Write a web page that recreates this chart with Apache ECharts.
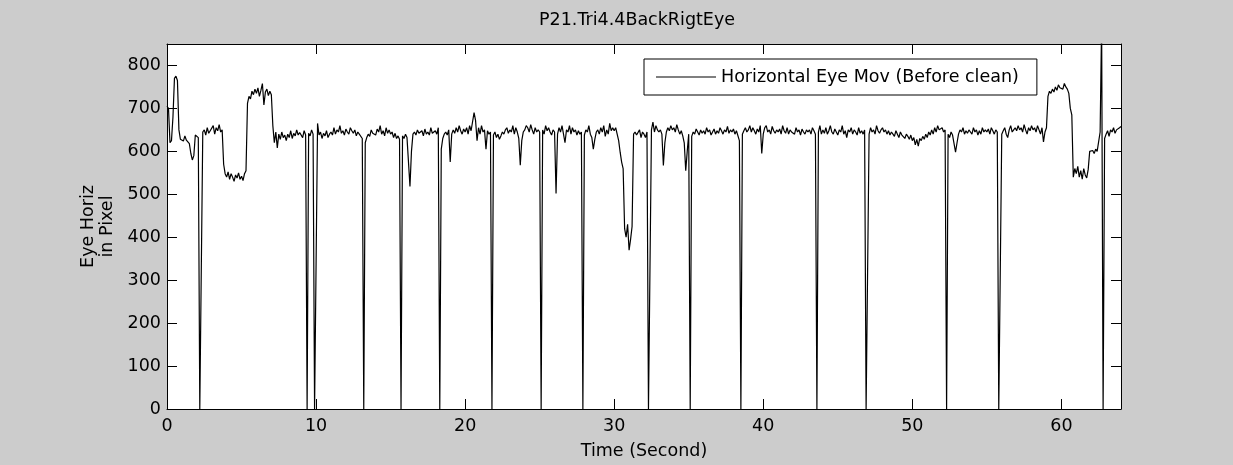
<!DOCTYPE html>
<html>
<head>
<meta charset="utf-8">
<script src="https://cdn.jsdelivr.net/npm/echarts@6/dist/echarts.min.js"></script>
<style>
  html, body { margin: 0; padding: 0; background: #cccccc; }
  #chart { width: 1233px; height: 465px; }
</style>
</head>
<body>
<div id="chart"></div>
<script>
// Eye-tracker trace: horizontal gaze position, sampled every 0.1 s (0 … 64 s).
const chartTitle = 'P21.Tri4.4BackRigtEye';
const seriesName = 'Horizontal Eye Mov (Before clean)';
const xAxisName = 'Time (Second)';
const yAxisName = 'Eye Horiz\nin Pixel';
const sampleStep = 0.1;
const xRange = [0, 64];
const yRange = [0, 850];
const xTicks = [0, 10, 20, 30, 40, 50, 60];
const yTicks = [0, 100, 200, 300, 400, 500, 600, 700, 800];

// one row per second (10 samples each); zeros are tracker dropouts
const eyeHoriz = [
  705, 700, 620, 625, 680, 770, 775, 765, 650, 628,
  632, 624, 636, 626, 630, 618, 595, 580, 590, 638,
  640, 632, 0, 0, 645, 650, 638, 655, 642, 648,
  652, 660, 640, 655, 648, 662, 645, 650, 570, 548,
  540, 552, 535, 548, 540, 530, 545, 538, 550, 535,
  542, 532, 548, 555, 712, 728, 722, 740, 732, 745,
  735, 748, 728, 742, 758, 708, 738, 745, 730, 740,
  732, 660, 620, 645, 608, 640, 628, 645, 632, 638,
  625, 640, 632, 648, 630, 642, 636, 650, 638, 644,
  640, 632, 648, 638, 0, 642, 636, 650, 640, 0,
  0, 665, 638, 645, 630, 642, 636, 648, 632, 640,
  645, 638, 655, 640, 650, 645, 660, 642, 648, 638,
  652, 645, 640, 655, 648, 642, 650, 636, 645, 640,
  638, 630, 0, 620, 632, 640, 635, 650, 642, 645,
  638, 652, 645, 660, 640, 648, 636, 655, 642, 650,
  640, 645, 632, 642, 630, 636, 628, 0, 636, 630,
  640, 632, 628, 518, 600, 640, 645, 638, 650, 642,
  640, 648, 636, 652, 640, 645, 638, 655, 642, 640,
  648, 640, 655, 0, 605, 630, 640, 645, 638, 650,
  575, 640, 650, 642, 655, 645, 660, 648, 640, 652,
  645, 655, 640, 660, 648, 645, 690, 672, 625, 655,
  640, 660, 645, 650, 605, 648, 640, 645, 0, 638,
  645, 632, 640, 628, 636, 645, 640, 650, 655, 642,
  650, 645, 660, 640, 655, 645, 630, 568, 625, 645,
  650, 660, 655, 645, 662, 650, 640, 655, 645, 650,
  645, 0, 650, 640, 660, 648, 655, 645, 638, 650,
  645, 502, 640, 655, 645, 660, 640, 620, 650, 645,
  660, 640, 655, 645, 650, 638, 648, 640, 645, 0,
  638, 650, 645, 660, 640, 632, 605, 628, 645, 650,
  640, 655, 645, 660, 635, 650, 640, 665, 648, 655,
  648, 655, 640, 625, 598, 575, 560, 420, 400, 430,
  370, 395, 425, 640, 645, 638, 640, 650, 632, 645,
  640, 632, 645, 0, 0, 650, 668, 645, 660, 650,
  645, 650, 640, 567, 620, 645, 655, 648, 660, 650,
  655, 645, 662, 650, 640, 648, 636, 620, 555, 600,
  640, 0, 635, 645, 640, 652, 645, 638, 650, 642,
  648, 640, 655, 645, 650, 638, 645, 652, 640, 648,
  642, 655, 648, 640, 650, 645, 658, 642, 650, 645,
  652, 640, 648, 645, 625, 0, 640, 648, 655, 645,
  650, 660, 645, 655, 648, 640, 652, 645, 660, 595,
  640, 655, 660, 645, 650, 640, 658, 648, 642, 650,
  645, 652, 640, 660, 648, 642, 655, 640, 650, 645,
  648, 640, 655, 645, 650, 638, 652, 645, 640, 650,
  645, 650, 640, 655, 648, 640, 0, 645, 660, 640,
  650, 642, 655, 640, 648, 660, 645, 640, 652, 645,
  638, 650, 645, 660, 640, 648, 632, 650, 645, 655,
  640, 650, 645, 638, 655, 642, 648, 640, 650, 0,
  0, 640, 655, 645, 650, 640, 660, 648, 642, 650,
  655, 645, 650, 640, 648, 638, 645, 640, 635, 648,
  640, 632, 645, 638, 642, 630, 640, 635, 628, 638,
  625, 632, 615, 628, 612, 630, 625, 635, 628, 640,
  632, 645, 638, 650, 640, 655, 645, 660, 650, 648,
  655, 645, 650, 0, 640, 632, 645, 638, 640, 598,
  620, 640, 650, 645, 655, 640, 648, 642, 650, 645,
  640, 655, 645, 650, 638, 648, 640, 655, 645, 650,
  645, 652, 640, 655, 648, 640, 650, 645, 0, 0,
  640, 648, 655, 640, 632, 650, 660, 645, 650, 655,
  648, 660, 650, 655, 645, 662, 650, 640, 655, 648,
  660, 650, 655, 645, 660, 650, 640, 655, 622, 645,
  655, 728, 740, 735, 745, 738, 750, 742, 755, 748,
  752, 745, 758, 750, 745, 735, 700, 685, 540, 560,
  548, 565, 540, 555, 535, 560, 545, 538, 558, 600,
  598, 602, 595, 605, 600, 598, 645, 900, 0, 630,
  640, 648, 635, 650, 645, 655, 642, 650, 648, 655,
  658
];

const seriesData = eyeHoriz.map((v, i) => [Math.round(i * sampleStep * 10) / 10, v]);

const FONT = 'DejaVu Sans';
const FS = 17.5;
const ink = '#000000';

function tickAxisCommon() {
  return {
    axisLine: { show: true, onZero: false, lineStyle: { color: ink, width: 1 } },
    axisTick: { show: true, inside: true, length: 10, lineStyle: { color: ink, width: 1 } },
    splitLine: { show: false }
  };
}

const chart = echarts.init(document.getElementById('chart'), null, { renderer: 'canvas' });
chart.setOption({
  animation: false,
  backgroundColor: '#cccccc',
  textStyle: { fontFamily: FONT },
  title: {
    text: chartTitle,
    left: 539,
    top: 11,
    padding: 0,
    textStyle: { fontFamily: FONT, fontSize: FS, fontWeight: 'normal', color: ink }
  },
  legend: {
    data: [seriesName],
    left: 644,
    top: 59,
    orient: 'horizontal',
    padding: [9, 18, 9, 12],
    icon: 'rect',
    itemWidth: 60,
    itemHeight: 1,
    itemStyle: { color: ink, borderWidth: 0 },
    backgroundColor: '#ffffff',
    borderColor: ink,
    borderWidth: 1,
    borderRadius: 0,
    selectedMode: false,
    textStyle: { fontFamily: FONT, fontSize: FS, color: ink }
  },
  grid: {
    left: 167, right: 112, top: 44, bottom: 53,
    show: true, backgroundColor: '#ffffff', borderWidth: 0,
    containLabel: false
  },
  xAxis: [
    Object.assign({
      type: 'value', position: 'bottom',
      min: xRange[0], max: xRange[1], interval: 10,
      name: xAxisName, nameLocation: 'middle', nameGap: 33,
      nameTextStyle: { fontFamily: FONT, fontSize: FS, color: ink },
      axisLabel: {
        margin: 8, fontFamily: FONT, fontSize: FS, color: ink,
        formatter: v => (xTicks.includes(v) ? String(v) : '')
      }
    }, tickAxisCommon()),
    Object.assign({
      type: 'value', position: 'top',
      min: xRange[0], max: xRange[1], interval: 10,
      axisLabel: { show: false }
    }, tickAxisCommon())
  ],
  yAxis: [
    Object.assign({
      type: 'value', position: 'left',
      min: yRange[0], max: yRange[1], interval: 100,
      name: yAxisName, nameLocation: 'middle', nameRotate: 90, nameGap: 50,
      nameTextStyle: { fontFamily: FONT, fontSize: FS, color: ink, lineHeight: 19 },
      axisLabel: {
        margin: 6, fontFamily: FONT, fontSize: FS, color: ink,
        formatter: v => (yTicks.includes(v) ? String(v) : '')
      }
    }, tickAxisCommon()),
    Object.assign({
      type: 'value', position: 'right',
      min: yRange[0], max: yRange[1], interval: 100,
      axisLabel: { show: false }
    }, tickAxisCommon())
  ],
  series: [{
    name: seriesName,
    type: 'line',
    xAxisIndex: 0,
    yAxisIndex: 0,
    data: seriesData,
    symbol: 'none',
    showSymbol: false,
    clip: true,
    sampling: null,
    lineStyle: { color: ink, width: 1.2 },
    itemStyle: { color: ink },
    emphasis: { disabled: true }
  }]
});
</script>
</body>
</html>
